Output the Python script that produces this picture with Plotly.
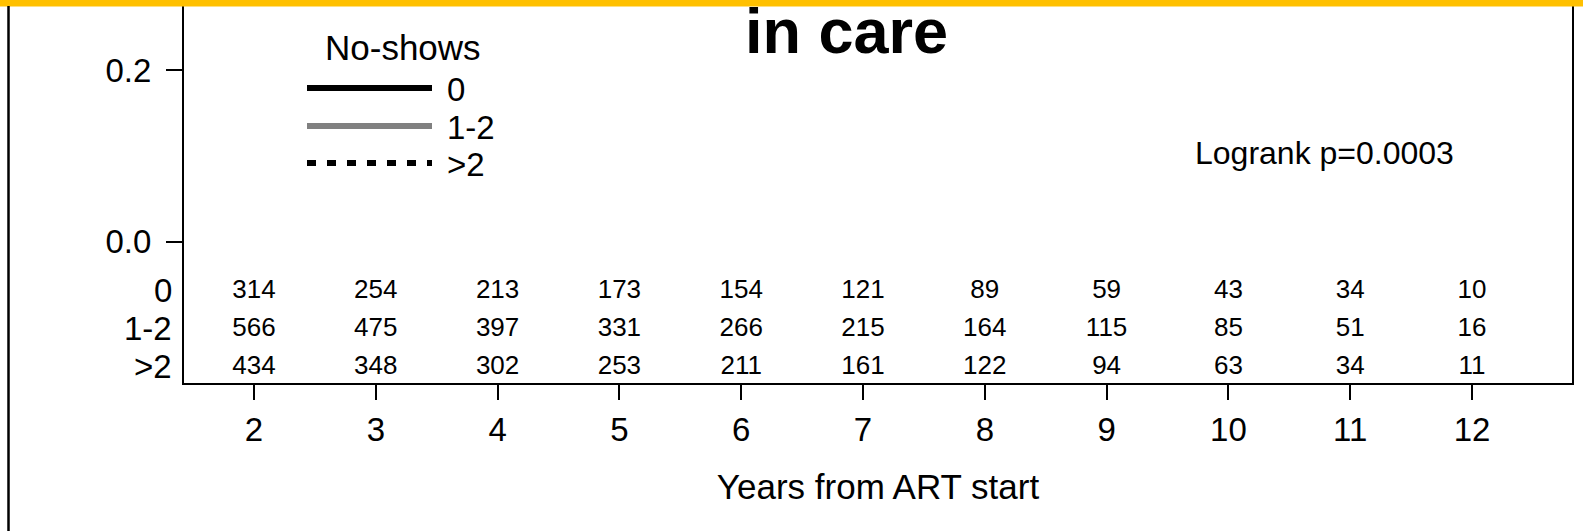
import plotly.graph_objects as go

# ---- data ----
years = [2, 3, 4, 5, 6, 7, 8, 9, 10, 11, 12]
groups = ["0", "1-2", ">2"]
at_risk_0 = [314, 254, 213, 173, 154, 121, 89, 59, 43, 34, 10]
at_risk_12 = [566, 475, 397, 331, 266, 215, 164, 115, 85, 51, 16]
at_risk_gt2 = [434, 348, 302, 253, 211, 161, 122, 94, 63, 34, 11]
y_ticks = [0.0, 0.2]
title_text = "in care"
legend_title = "No-shows"
pvalue_text = "Logrank p=0.0003"
x_title = "Years from ART start"

# ---- geometry ----
W, H = 1583, 531
L, R, T, B = 184, 1572, 0, 383
FONT = "Liberation Sans, Arial, sans-serif"

def px_x(px):
    return (px - L) / (R - L)

def px_y(py):
    return (B - py) / (B - T)

y_range = [-0.16462, 0.28154]
x_range = [1.4253, 12.821]

def data_y(py):
    return y_range[0] + (B - py) / (B - T) * (y_range[1] - y_range[0])

row_py = [291, 329, 367]
tables = [at_risk_0, at_risk_12, at_risk_gt2]

fig = go.Figure()
for vals, py in zip(tables, row_py):
    fig.add_trace(go.Scatter(
        x=years, y=[data_y(py)] * len(years), mode="text",
        text=[str(v) for v in vals], textposition="middle center",
        textfont=dict(family=FONT, size=26, color="black"),
        cliponaxis=False, showlegend=False, hoverinfo="skip"))

shapes = []
annotations = []

# yellow band at top and black left rule
shapes.append(dict(type="rect", xref="paper", yref="paper",
                   x0=px_x(-2), x1=px_x(W + 2), y0=px_y(6.5), y1=px_y(-3),
                   fillcolor="#FFC000", line=dict(width=0), layer="above"))
shapes.append(dict(type="line", xref="paper", yref="paper",
                   x0=px_x(8.5), x1=px_x(8.5), y0=px_y(6), y1=px_y(H + 2),
                   line=dict(color="black", width=2.5)))

# title
annotations.append(dict(text="<b>" + title_text + "</b>", xref="paper", yref="paper",
                        x=px_x(846), y=px_y(31), xanchor="center", yanchor="middle",
                        showarrow=False, font=dict(family=FONT, size=63, color="black")))

# legend (manual)
annotations.append(dict(text=legend_title, xref="paper", yref="paper",
                        x=px_x(403), y=px_y(48), xanchor="center", yanchor="middle",
                        showarrow=False, font=dict(family=FONT, size=35, color="black")))
leg_styles = [dict(color="black", width=6, dash="solid"),
              dict(color="#808080", width=6, dash="solid"),
              dict(color="black", width=6, dash="9px,11px")]
leg_py = [88, 126, 163]
for g, st, py in zip(groups, leg_styles, leg_py):
    shapes.append(dict(type="line", xref="paper", yref="paper",
                       x0=px_x(307), x1=px_x(432), y0=px_y(py), y1=px_y(py),
                       line=st))
    annotations.append(dict(text=g, xref="paper", yref="paper",
                            x=px_x(445), y=px_y(py + 1), xanchor="left", yanchor="middle",
                            showarrow=False, font=dict(family=FONT, size=33, color="black")))

# logrank
annotations.append(dict(text=pvalue_text, xref="paper", yref="paper",
                        x=px_x(1324), y=px_y(153), xanchor="center", yanchor="middle",
                        showarrow=False, font=dict(family=FONT, size=32, color="black")))

# row labels of risk table
for g, py in zip(groups, row_py):
    annotations.append(dict(text=g, xref="paper", yref="paper",
                            x=0, xshift=-10, y=px_y(py - 1), xanchor="right", yanchor="middle",
                            showarrow=False, font=dict(family=FONT, size=33, color="black")))

fig.update_layout(
    width=W, height=H,
    margin=dict(l=L, r=W - R, t=T, b=H - B, pad=0),
    paper_bgcolor="white", plot_bgcolor="white",
    showlegend=False,
    shapes=shapes, annotations=annotations,
    font=dict(family=FONT, color="black"),
    xaxis=dict(range=x_range, tickvals=years, ticks="outside", ticklen=15, tickwidth=2,
               tickcolor="black", showline=True, linecolor="black", linewidth=2,
               showgrid=False, zeroline=False, mirror=False,
               tickfont=dict(family=FONT, size=33, color="black"),
               ticklabelstandoff=1,
               title=dict(text=x_title, font=dict(family=FONT, size=35, color="black"),
                          standoff=28)),
    yaxis=dict(range=y_range, tickvals=y_ticks, tickformat=".1f", ticks="outside",
               ticklen=16, tickwidth=2, tickcolor="black", showline=True,
               linecolor="black", linewidth=2, mirror=True, showgrid=False,
               zeroline=False, ticklabelstandoff=8,
               tickfont=dict(family=FONT, size=33, color="black")),
)

fig.write_html("out.html",
               config={"displayModeBar": False, "staticPlot": True},
               post_script="document.body.style.margin='0px';"
                           "document.documentElement.style.overflow='hidden';")
